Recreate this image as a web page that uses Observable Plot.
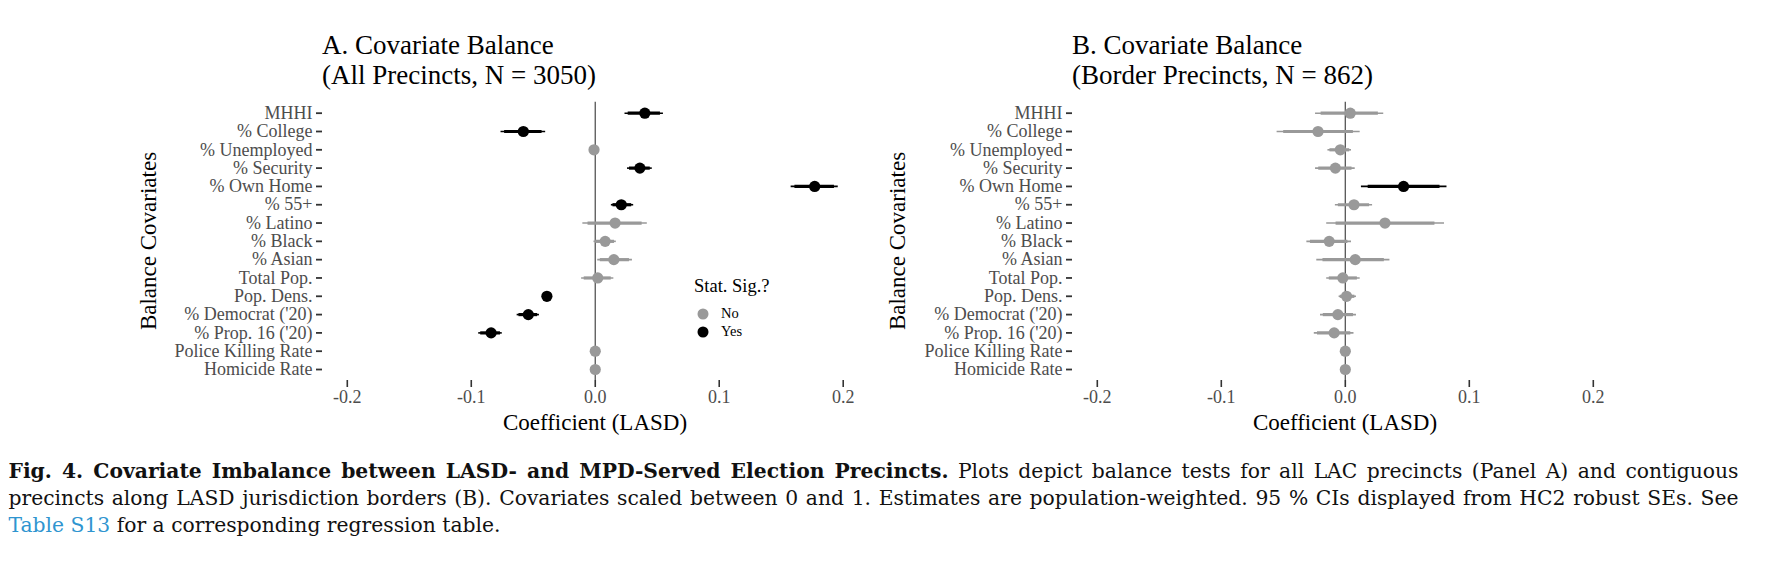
<!DOCTYPE html>
<html>
<head>
<meta charset="utf-8">
<script src="https://cdn.jsdelivr.net/npm/d3@7"></script>
<script src="https://cdn.jsdelivr.net/npm/@observablehq/plot@0.6"></script>
<style>
  html, body { margin: 0; padding: 0; background: #fff; }
  body { width: 1770px; height: 574px; overflow: hidden; font-family: "Liberation Serif", serif; }
  #wrap { position: relative; width: 1770px; height: 574px; }
  .panel { position: absolute; top: 0; }
  .panel svg text { font-family: "Liberation Serif", serif; }
  .title { position: absolute; font-family: "Liberation Serif", serif; font-size: 27px; line-height: 30px; color: #000; white-space: nowrap; }
  .axt { position: absolute; font-family: "Liberation Serif", serif; font-size: 23px; color: #000; white-space: nowrap; transform: translate(-50%, -50%); }
  .axt.rot { transform: translate(-50%, -50%) rotate(-90deg); }
  .leg { position: absolute; font-family: "Liberation Serif", serif; white-space: nowrap; color: #000; }
  .legdot { position: absolute; width: 11px; height: 11px; border-radius: 50%; transform: translate(-50%, -50%); }
  #caption { position: absolute; left: 8.5px; top: 458px; width: 1730px; font-family: "DejaVu Serif", serif; line-height: 27px; color: #111; font-size: 20px; }
  #caption .cl { white-space: nowrap; }
  #caption .in { display: inline-block; white-space: nowrap; }
  #caption a { color: #2f95d0; text-decoration: none; }
</style>
</head>
<body>
<div id="wrap">
  <div class="panel" id="panelA" style="left:0px"></div>
  <div class="panel" id="panelB" style="left:885px"></div>

  <div class="title" style="left:322px; top:30px">A. Covariate Balance<br>(All Precincts, N = 3050)</div>
  <div class="title" style="left:1072px; top:30px">B. Covariate Balance<br>(Border Precincts, N = 862)</div>

  <div class="axt rot" style="left:149px; top:241px">Balance Covariates</div>
  <div class="axt rot" style="left:898px; top:241px">Balance Covariates</div>
  <div class="axt" style="left:595px; top:423px">Coefficient (LASD)</div>
  <div class="axt" style="left:1345px; top:423px">Coefficient (LASD)</div>

  <div class="leg" style="left:694px; top:276px; font-size:18.5px">Stat. Sig.?</div>
  <div class="legdot" style="left:703px; top:314px; background:#999999"></div>
  <div class="leg" style="left:721px; top:305px; font-size:14.5px">No</div>
  <div class="legdot" style="left:703px; top:332px; background:#000"></div>
  <div class="leg" style="left:721px; top:323px; font-size:14.5px">Yes</div>

  <div id="caption">
    <div class="cl"><span class="in"><b>Fig. 4. Covariate Imbalance between LASD- and MPD-Served Election Precincts.</b> Plots depict balance tests for all LAC precincts (Panel A) and contiguous</span></div>
    <div class="cl"><span class="in">precincts along LASD jurisdiction borders (B). Covariates scaled between 0 and 1. Estimates are population-weighted. 95 % CIs displayed from HC2 robust SEs. See</span></div>
    <div class="cl"><span class="in"><a>Table S13</a> for a corresponding regression table.</span></div>
  </div>
</div>

<script>
// ---- Data ----
const covariates = ["MHHI", "% College", "% Unemployed", "% Security", "% Own Home", "% 55+", "% Latino",
  "% Black", "% Asian", "Total Pop.", "Pop. Dens.", "% Democrat ('20)", "% Prop. 16 ('20)",
  "Police Killing Rate", "Homicide Rate"];

// Panel A: all precincts
const estA = [0.040, -0.058, -0.001, 0.036, 0.177, 0.021, 0.016, 0.008, 0.015, 0.002, -0.039, -0.054, -0.084, 0.000, 0.000];
const loA  = [0.024, -0.076, -0.004, 0.026, 0.158, 0.013, -0.010, -0.001, 0.002, -0.011, -0.042, -0.063, -0.094, 0.000, 0.000];
const hiA  = [0.055, -0.040, 0.002, 0.046, 0.196, 0.031, 0.042, 0.017, 0.030, 0.015, -0.036, -0.045, -0.075, 0.000, 0.000];
const sigA = ["Yes", "Yes", "No", "Yes", "Yes", "Yes", "No", "No", "No", "No", "Yes", "Yes", "Yes", "No", "No"];

// Panel B: border precincts
const estB = [0.004, -0.022, -0.004, -0.008, 0.047, 0.007, 0.032, -0.013, 0.008, -0.002, 0.001, -0.006, -0.009, 0.000, 0.000];
const loB  = [-0.024, -0.055, -0.014, -0.024, 0.013, -0.008, -0.015, -0.031, -0.023, -0.015, -0.005, -0.020, -0.025, 0.000, 0.000];
const hiB  = [0.031, 0.012, 0.005, 0.008, 0.082, 0.022, 0.080, 0.005, 0.036, 0.012, 0.009, 0.009, 0.007, 0.000, 0.000];
const sigB = ["No", "No", "No", "No", "Yes", "No", "No", "No", "No", "No", "No", "No", "No", "No", "No"];

const xTicks = [-0.2, -0.1, 0.0, 0.1, 0.2];
const sigLevels = ["No", "Yes"];
const sigColors = ["#999999", "#000000"];
const innerRatio = 1.645 / 1.96; // 90% interval drawn thicker inside the 95% interval

function panel(est, lo, hi, sig, marginLeft, marginRight) {
  const rows = covariates.map((c, i) => ({
    c, est: est[i], lo: lo[i], hi: hi[i], sig: sig[i],
    ilo: est[i] - (est[i] - lo[i]) * innerRatio,
    ihi: est[i] + (hi[i] - est[i]) * innerRatio
  })).sort((a, b) => sigLevels.indexOf(a.sig) - sigLevels.indexOf(b.sig));

  const font = "Liberation Serif";
  return Plot.plot({
    width: 885,
    height: 440,
    marginLeft, marginRight,
    marginTop: 101.7,
    marginBottom: 60,
    style: { fontFamily: font, background: "transparent", overflow: "visible" },
    x: { domain: [-0.22, 0.22] },
    y: { type: "point", domain: covariates, padding: 0.6, round: false },
    color: { domain: sigLevels, range: sigColors },
    marks: [
      Plot.ruleX([0], { stroke: "#555555", strokeWidth: 1.3 }),
      Plot.axisY(covariates, { tickSize: 6, tickPadding: 4, fontSize: 18, fontFamily: font, stroke: "#333333", strokeWidth: 1.8, fill: "#4d4d4d", label: null }),
      Plot.axisX(xTicks, { tickSize: 7, tickPadding: 3, fontSize: 18, fontFamily: font, stroke: "#333333", strokeWidth: 1.6, fill: "#4d4d4d", label: null, tickFormat: d => d.toFixed(1) }),
      Plot.ruleY(rows, { y: "c", x1: "lo", x2: "hi", stroke: "sig", strokeWidth: 1.6 }),
      Plot.ruleY(rows, { y: "c", x1: "ilo", x2: "ihi", stroke: "sig", strokeWidth: 3.2 }),
      Plot.dot(rows, { y: "c", x: "est", fill: "sig", r: 5.6 })
    ]
  });
}

// Panel A frame: x 322 -> 867.5 ; Panel B frame: x 1072 -> 1617.6 (svg offset 885)
document.getElementById("panelA").append(panel(estA, loA, hiA, sigA, 322, 17.5));
document.getElementById("panelB").append(panel(estB, loB, hiB, sigB, 187, 152.4));

// ---- Caption justification ----
(function fitCaption() {
  const target = 1730;
  const lines = Array.from(document.querySelectorAll("#caption .in"));
  const maxW = Math.max(lines[0].getBoundingClientRect().width, lines[1].getBoundingClientRect().width);
  const cap = document.getElementById("caption");
  let fs = 20.5;
  cap.style.fontSize = fs + "px";
  const w0 = Math.max(lines[0].getBoundingClientRect().width, lines[1].getBoundingClientRect().width);
  if (w0 > target * 0.985) {
    fs = fs * target * 0.985 / w0;
    cap.style.fontSize = fs + "px";
  }
  for (let k = 0; k < 2; k++) {
    const el = lines[k];
    const w = el.getBoundingClientRect().width;
    const spaces = (el.textContent.match(/ /g) || []).length;
    el.style.wordSpacing = ((target - w) / spaces) + "px";
  }
})();
</script>
</body>
</html>
